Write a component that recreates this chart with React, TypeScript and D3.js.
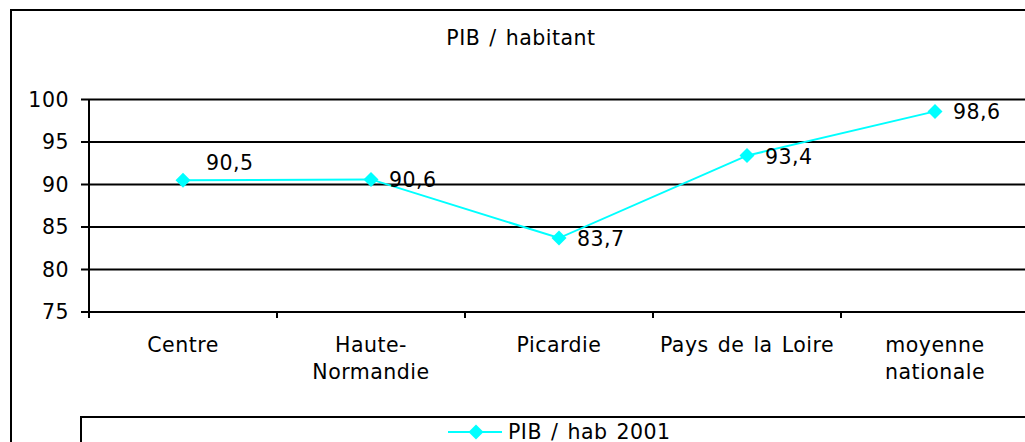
import React from "react";
import * as d3 from "d3";

const categories: string[][] = [
  ["Centre"],
  ["Haute-", "Normandie"],
  ["Picardie"],
  ["Pays de la Loire"],
  ["moyenne", "nationale"],
];
const values: number[] = [90.5, 90.6, 83.7, 93.4, 98.6];
const valueLabels: string[] = ["90,5", "90,6", "83,7", "93,4", "98,6"];
const yTicks: number[] = [75, 80, 85, 90, 95, 100];
const title = "PIB / habitant";
const seriesName = "PIB / hab 2001";

const W = 1025;
const H = 442;
const FONT = "DejaVu Sans, Verdana, sans-serif";
const FS = 20.5;
const CYAN = "#00FFFF";
const textStyle = { letterSpacing: "0.5px", wordSpacing: "2px" };

export default function App() {
  const x = d3
    .scaleBand<number>()
    .domain(categories.map((_, i) => i))
    .range([89, 1029]);
  const y = d3.scaleLinear().domain([75, 100]).range([312, 99.5]);
  const cx = (i: number) => (x(i) as number) + x.bandwidth() / 2;

  const line = d3
    .line<number>()
    .x((_, i) => cx(i))
    .y((d) => y(d));

  const diamond = (px: number, py: number, r: number) =>
    `M${px},${py - r}L${px + r},${py}L${px},${py + r}L${px - r},${py}Z`;

  // label placement: first label sits above, others to the right
  const labelPos = (i: number) =>
    i === 0
      ? { lx: cx(i) + 23, ly: y(values[i]) - 17 }
      : { lx: cx(i) + 18, ly: y(values[i]) + 1 };

  const tickEdges = d3.range(categories.length + 1).map((i) =>
    i < categories.length ? (x(i) as number) : (x(i - 1) as number) + x.bandwidth()
  );

  return (
    <svg
      width={W}
      height={H}
      style={{ position: "absolute", left: 0, top: 0, background: "#fff" }}
      fontFamily={FONT}
    >
      <rect x={0} y={0} width={W} height={H} fill="#fff" />
      {/* outer chart border */}
      <rect x={11} y={10} width={1040} height={460} fill="none" stroke="#000" strokeWidth={2} />
      <text x={521} y={38} fontSize={FS} textAnchor="middle" dominantBaseline="central" fill="#000" style={textStyle}>
        {title}
      </text>

      {/* gridlines */}
      {yTicks.map((t) => (
        <g key={t}>
          <line x1={81} x2={1030} y1={y(t)} y2={y(t)} stroke="#000" strokeWidth={2} />
          <text
            x={69}
            y={y(t)}
            fontSize={FS}
            textAnchor="end"
            dominantBaseline="central"
            fill="#000"
            style={textStyle}
          >
            {t}
          </text>
        </g>
      ))}
      {/* y axis */}
      <line x1={89} x2={89} y1={y(100)} y2={y(75) + 6} stroke="#000" strokeWidth={2} />
      {/* x ticks */}
      {tickEdges.map((tx, i) => (
        <line key={i} x1={tx} x2={tx} y1={y(75)} y2={y(75) + 6} stroke="#000" strokeWidth={2} />
      ))}
      {/* category labels */}
      {categories.map((lines, i) => (
        <text
          key={i}
          x={cx(i)}
          fontSize={FS}
          textAnchor="middle"
          fill="#000"
          style={textStyle}
        >
          {lines.map((l, j) => (
            <tspan key={j} x={cx(i)} y={345 + j * 27} dominantBaseline="central">
              {l}
            </tspan>
          ))}
        </text>
      ))}

      {/* series */}
      <path d={line(values) || ""} fill="none" stroke={CYAN} strokeWidth={2} />
      {values.map((v, i) => (
        <path key={i} d={diamond(cx(i), y(v), 7.5)} fill={CYAN} />
      ))}
      {values.map((v, i) => {
        const p = labelPos(i);
        return (
          <text
            key={i}
            x={p.lx}
            y={p.ly}
            fontSize={FS}
            dominantBaseline="central"
            fill="#000"
            style={textStyle}
          >
            {valueLabels[i]}
          </text>
        );
      })}

      {/* legend */}
      <rect x={81} y={417} width={1000} height={60} fill="none" stroke="#000" strokeWidth={2} />
      <line x1={448} x2={502} y1={432} y2={432} stroke={CYAN} strokeWidth={2} />
      <path d={diamond(476, 432, 7.5)} fill={CYAN} />
      <text x={508} y={432} fontSize={FS} dominantBaseline="central" fill="#000" style={textStyle}>
        {seriesName}
      </text>
    </svg>
  );
}
